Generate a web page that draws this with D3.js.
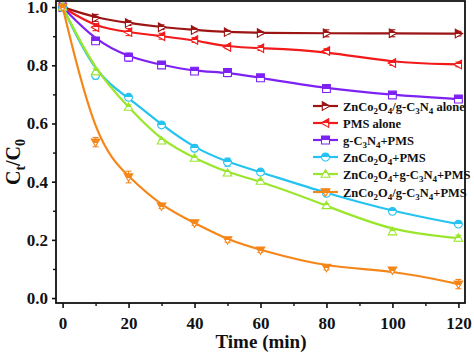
<!DOCTYPE html>
<html>
<head>
<meta charset="utf-8">
<script src="https://cdn.jsdelivr.net/npm/d3@7"></script>
<style>
  body { margin: 0; background: #fff; }
  svg { display: block; }
  text { font-family: "Liberation Serif", "Times New Roman", serif; font-weight: bold; }
</style>
</head>
<body>
<svg id="chart" width="474" height="352"></svg>
<script>
// time points (min)
const times = [0, 10, 20, 30, 40, 50, 60, 80, 100, 120];

// Ct/C0
const zcoGcnAlone = [1.0, 0.963, 0.945, 0.931, 0.921, 0.914, 0.911, 0.910, 0.910, 0.909];
const pmsAlone    = [1.0, 0.931, 0.914, 0.900, 0.887, 0.863, 0.859, 0.849, 0.808, 0.803];
const gcnPms      = [1.0, 0.884, 0.828, 0.801, 0.780, 0.775, 0.757, 0.720, 0.698, 0.684];
const zcoPms      = [1.0, 0.765, 0.690, 0.595, 0.515, 0.467, 0.433, 0.360, 0.298, 0.254];
const mixPms      = [1.0, 0.778, 0.656, 0.540, 0.481, 0.430, 0.402, 0.318, 0.228, 0.206];
const compPms     = [1.0, 0.536, 0.416, 0.316, 0.258, 0.200, 0.165, 0.105, 0.096, 0.048];

// error bar half-widths
const errA = [0.005, 0.012, 0.008, 0.008, 0.006, 0.006, 0.005, 0.012, 0.012, 0.008];
const errB = [0.005, 0.012, 0.012, 0.010, 0.008, 0.006, 0.008, 0.008, 0.008, 0.008];
const errC = [0.005, 0.010, 0.014, 0.008, 0.006, 0.014, 0.006, 0.006, 0.006, 0.006];
const errD = [0.005, 0.012, 0.008, 0.006, 0.012, 0.014, 0.006, 0.006, 0.006, 0.006];
const errE = [0.005, 0.010, 0.008, 0.006, 0.006, 0.006, 0.006, 0.006, 0.006, 0.010];
const errF = [0.005, 0.016, 0.020, 0.008, 0.008, 0.008, 0.008, 0.008, 0.008, 0.016];

const seriesNames = [
  ["ZnCo", "2", "O", "4", "/g-C", "3", "N", "4", " alone"],
  ["PMS alone"],
  ["g-C", "3", "N", "4", "+PMS"],
  ["ZnCo", "2", "O", "4", "+PMS"],
  ["ZnCo", "2", "O", "4", "+g-C", "3", "N", "4", "+PMS"],
  ["ZnCo", "2", "O", "4", "/g-C", "3", "N", "4", "+PMS"]
];
const seriesColors = ["#9c1414", "#f21a1a", "#7d22f2", "#25c3f0", "#9ae62c", "#f5861a"];
const seriesShapes = ["triRight", "triLeft", "square", "circle", "triUp", "triDown"];

const xTicks = [0, 20, 40, 60, 80, 100, 120];
const yTicks = [0.0, 0.2, 0.4, 0.6, 0.8, 1.0];

const series = [zcoGcnAlone, pmsAlone, gcnPms, zcoPms, mixPms, compPms].map((vals, i) => ({
  name: seriesNames[i],
  color: seriesColors[i],
  shape: seriesShapes[i],
  points: times.map((t, j) => ({ t: t, v: vals[j], e: [errA, errB, errC, errD, errE, errF][i][j] }))
}));

const svg = d3.select("#chart");
const margin = { top: 1, right: 9, bottom: 49, left: 56 };
const width = 474 - margin.left - margin.right;
const height = 352 - margin.top - margin.bottom;

// half-filled marker look
const defs = svg.append("defs");
series.forEach((s, i) => {
  const g = defs.append("linearGradient")
    .attr("id", "half" + i)
    .attr("x1", 0).attr("y1", 0).attr("x2", 0).attr("y2", 1);
  g.append("stop").attr("offset", "50%").attr("stop-color", s.color);
  g.append("stop").attr("offset", "50%").attr("stop-color", "#fff");
});

const g = svg.append("g").attr("transform", `translate(${margin.left},${margin.top})`);

const x = d3.scaleLinear().domain([-2, 122]).range([0, width]);
const y = d3.scaleLinear().domain([-0.017, 1.021]).range([height, 0]);

// minor ticks
g.append("g")
  .attr("transform", `translate(0,${height})`)
  .call(d3.axisBottom(x).tickValues(d3.range(10, 120, 20)).tickSize(3).tickFormat(""))
  .call(a => a.select(".domain").remove())
  .selectAll("line").attr("stroke", "#111").attr("stroke-width", 1.4);
g.append("g")
  .call(d3.axisLeft(y).tickValues([0.1, 0.3, 0.5, 0.7, 0.9]).tickSize(3).tickFormat(""))
  .call(a => a.select(".domain").remove())
  .selectAll("line").attr("stroke", "#111").attr("stroke-width", 1.4);

// major axes
const xAxis = g.append("g")
  .attr("transform", `translate(0,${height})`)
  .call(d3.axisBottom(x).tickValues(xTicks).tickSize(5).tickPadding(9).tickSizeOuter(0));
const yAxis = g.append("g")
  .call(d3.axisLeft(y).tickValues(yTicks).tickSize(4).tickPadding(4).tickFormat(d3.format(".1f")).tickSizeOuter(0));
[xAxis, yAxis].forEach(a => {
  a.select(".domain").remove();
  a.selectAll("line").attr("stroke", "#111").attr("stroke-width", 1.6);
  a.selectAll("text").attr("fill", "#111").style("font-size", "17px");
});

// frame
g.append("rect")
  .attr("width", width).attr("height", height)
  .attr("fill", "none").attr("stroke", "#111").attr("stroke-width", 1.8);

const line = d3.line()
  .x(d => x(d.t))
  .y(d => y(d.v))
  .curve(d3.curveBasis);

function markerPath(shape, r) {
  switch (shape) {
    case "square": return `M${-r},${-r}H${r}V${r}H${-r}Z`;
    case "circle": return d3.symbol(d3.symbolCircle, Math.PI * r * r)();
    case "triUp": return `M0,${-r * 1.1}L${r * 1.1},${r * 0.8}L${-r * 1.1},${r * 0.8}Z`;
    case "triDown": return `M0,${r * 1.1}L${r * 1.1},${-r * 0.8}L${-r * 1.1},${-r * 0.8}Z`;
    case "triRight": return `M${r * 1.1},0L${-r * 0.8},${r * 1.1}L${-r * 0.8},${-r * 1.1}Z`;
    case "triLeft": return `M${-r * 1.1},0L${r * 0.8},${r * 1.1}L${r * 0.8},${-r * 1.1}Z`;
  }
}

const plot = g.append("g");
series.forEach((s, i) => {
  const sg = plot.append("g");
  sg.append("path")
    .datum(s.points)
    .attr("d", line)
    .attr("fill", "none")
    .attr("stroke", s.color)
    .attr("stroke-width", 2.2);

  const eb = sg.selectAll(".err")
    .data(s.points)
    .join("g")
    .attr("stroke", s.color)
    .attr("stroke-width", 1.1);
  eb.append("line")
    .attr("x1", d => x(d.t)).attr("x2", d => x(d.t))
    .attr("y1", d => y(d.v - d.e)).attr("y2", d => y(d.v + d.e));
  eb.append("line")
    .attr("x1", d => x(d.t) - 3).attr("x2", d => x(d.t) + 3)
    .attr("y1", d => y(d.v - d.e)).attr("y2", d => y(d.v - d.e));
  eb.append("line")
    .attr("x1", d => x(d.t) - 3).attr("x2", d => x(d.t) + 3)
    .attr("y1", d => y(d.v + d.e)).attr("y2", d => y(d.v + d.e));

  sg.selectAll(".mk")
    .data(s.points)
    .join("path")
    .attr("transform", d => `translate(${x(d.t)},${y(d.v)})`)
    .attr("d", markerPath(s.shape, 3.9))
    .attr("fill", `url(#half${i})`)
    .attr("stroke", s.color)
    .attr("stroke-width", 1.1);
});

// legend
const legend = svg.append("g");
const legendY = [106, 123, 140, 157, 174, 192];
series.forEach((s, i) => {
  const row = legend.append("g").attr("transform", `translate(313,${legendY[i]})`);
  row.append("line")
    .attr("x1", 0).attr("x2", 25)
    .attr("stroke", s.color).attr("stroke-width", 2.2);
  row.append("path")
    .attr("transform", "translate(12.5,0)")
    .attr("d", markerPath(s.shape, 4))
    .attr("fill", `url(#half${i})`)
    .attr("stroke", s.color)
    .attr("stroke-width", 1.1);
  const t = row.append("text")
    .attr("x", 30).attr("y", 4.5)
    .attr("fill", "#111")
    .style("font-size", "12.5px");
  s.name.forEach((part, k) => {
    const isSub = /^[0-9]$/.test(part);
    t.append("tspan")
      .attr("dy", isSub ? 3 : (k > 0 ? -3 : 0))
      .style("font-size", isSub ? "9px" : "12.5px")
      .text(part);
  });
});

// axis titles
svg.append("text")
  .attr("x", 261).attr("y", 348)
  .attr("text-anchor", "middle")
  .attr("fill", "#111")
  .style("font-size", "19px")
  .text("Time (min)");

const yl = svg.append("text")
  .attr("transform", "translate(20,162) rotate(-90)")
  .attr("text-anchor", "middle")
  .attr("fill", "#111")
  .style("font-size", "20px");
yl.append("tspan").text("C");
yl.append("tspan").attr("dy", 5).style("font-size", "14px").text("t");
yl.append("tspan").attr("dy", -5).text("/C");
yl.append("tspan").attr("dy", 5).style("font-size", "14px").text("0");
</script>
</body>
</html>
